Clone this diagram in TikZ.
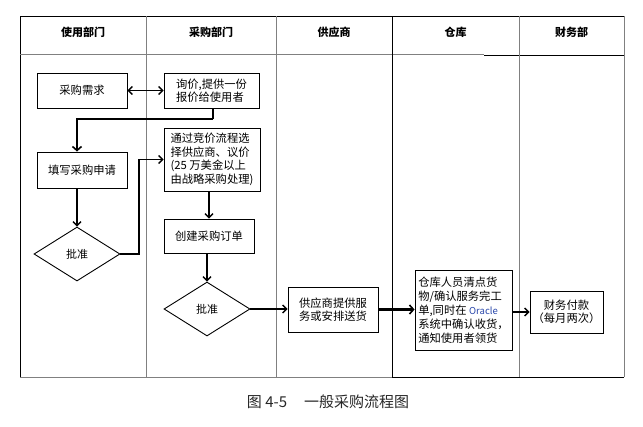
\documentclass[tikz,border=0pt]{standalone}
\usepackage{fontspec}
\setmainfont{Noto Sans CJK SC}
\usetikzlibrary{shapes.geometric,arrows.meta}
\definecolor{lanegray}{RGB}{128,128,128}
\definecolor{oracleblue}{RGB}{40,70,170}
\begin{document}
\begin{tikzpicture}[x=1pt,y=-1pt,
  box/.style={draw,line width=0.9pt,inner sep=2pt,align=left,font=\fontsize{11.3}{13.5}\selectfont},
  dia/.style={draw,line width=0.9pt,diamond,aspect=1.6,inner sep=0pt,minimum width=86pt,minimum height=54pt,font=\fontsize{11}{13}\selectfont},
  head/.style={font=\fontsize{11}{13}\selectfont\bfseries},
  lane/.style={draw=lanegray,line width=0.8pt},
  laneb/.style={draw=black,line width=1pt},
  arr/.style={line width=1.3pt,-{Straight Barb[length=4pt,width=8pt,line width=1.3pt]}},
  darr/.style={line width=1.3pt,{Straight Barb[length=4pt,width=8pt,line width=1.3pt]}-{Straight Barb[length=4pt,width=8pt,line width=1.3pt]}},
  tarr/.style={line width=2.4pt,-{Straight Barb[length=4pt,width=9pt,line width=1.6pt]}},
  tline/.style={line width=2.4pt}
]
\useasboundingbox (0,0) rectangle (643,426);
% swimlane frame
\draw[laneb] (20,16) -- (624,16);
\draw[laneb] (20,16) -- (20,377);
\draw[lane] (624,16) -- (624,377);
\draw[lane] (20,377) -- (392,377);
\draw[laneb] (392,377) -- (624,377);
\draw[lane] (20,54) -- (484,54);
\draw[laneb] (484,55) -- (624,55);
\draw[lane] (146,16) -- (146,377);
\draw[lane] (276,16) -- (276,377);
\draw[laneb] (392,16) -- (392,377);
\draw[lane] (519,16) -- (519,377);
% headers
\node[head] (h1) at (83,32) {使用部门};
\node[head] (h2) at (211,32) {采购部门};
\node[head] (h3) at (334,32) {供应商};
\node[head] (h4) at (455.5,32) {仓库};
\node[head] (h5) at (571.5,32) {财务部};
% nodes
\node[box,align=center,minimum width=90pt,minimum height=35pt] (n1) at (82,90.5) {采购需求};
\node[box,minimum width=95pt,minimum height=35pt] (n2) at (211.5,90.5) {询价,提供一份\\报价给使用者};
\node[box,align=center,minimum width=90pt,minimum height=36pt] (n3) at (82,170) {填写采购申请};
\node[box,minimum width=96pt,minimum height=63pt] (n4) at (212,159.5) {通过竞价流程选\\择供应商、议价\\(25 万美金以上\\由战略采购处理)};
\node[dia] (d1) at (77,254) {批准};
\node[box,align=center,minimum width=90pt,minimum height=34pt] (n5) at (209,236) {创建采购订单};
\node[dia] (d2) at (207,309) {批准};
\node[box,minimum width=90pt,minimum height=45pt] (n6) at (333,309.5) {供应商提供服\\务或安排送货};
\node[box,minimum width=97pt,minimum height=80pt,font=\fontsize{11.3}{14}\selectfont] (n7) at (463.5,310) {仓库人员清点货\\物/确认服务完工\\单,同时在 {\color{oracleblue}\fontsize{9.5}{14}\selectfont Oracle}\\系统中确认收货，\\通知使用者领货};
\node[box,align=center,minimum width=73pt,minimum height=42pt] (n8) at (566.5,312) {财务付款\\（每月两次）};
% connectors
\draw[darr] (n1) -- (n2);
\coordinate (c1) at (213,119);
\draw[tline] (n2.south -| c1) -- (c1);
\draw[tarr] (c1) -- (c1 -| d1) -- (n3.north -| d1);
\draw[arr] (n3.south -| d1) -- (d1.north);
\coordinate (c2) at (139,254);
\draw[arr] (d1.east) -- (c2) -- (c2 |- n4.west) -- (n4.west);
\draw[arr] (n4.south -| n5.north) -- (n5.north);
\draw[arr] (n5.south -| d2.north) -- (d2.north);
\draw[arr] (d2.east) -- (d2.east -| n6.west);
\draw[tarr] (n6.east) -- (n6.east -| n7.west);
\draw[arr] (n7.east |- n8.west) -- (n8.west);
% caption
\node[font=\fontsize{15}{17}\selectfont,text=black!85] (cap) at (328,402) {图 4-5\hspace{17pt}一般采购流程图};
\end{tikzpicture}
\end{document}
